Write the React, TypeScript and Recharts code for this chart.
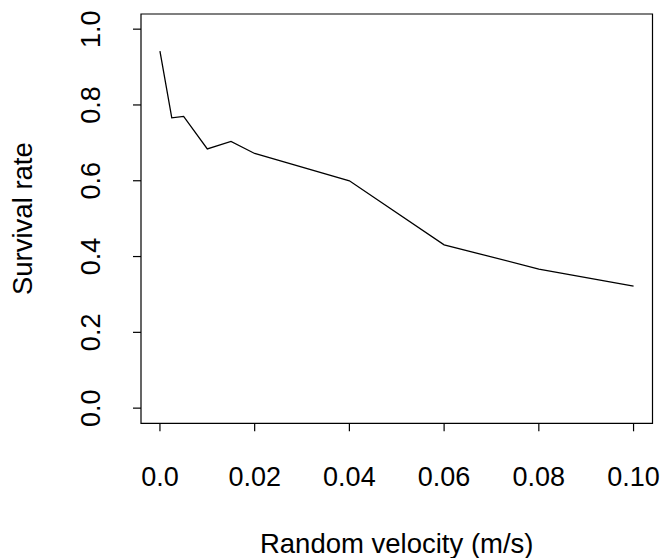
import { LineChart, Line, XAxis, YAxis, ReferenceArea, Label } from "recharts";

const velocity = [0, 0.0025, 0.005, 0.01, 0.015, 0.02, 0.04, 0.06, 0.08, 0.1];
const survival = [0.942, 0.766, 0.77, 0.684, 0.704, 0.672, 0.6, 0.431, 0.367, 0.322];

const xTicks = [0, 0.02, 0.04, 0.06, 0.08, 0.1];
const xTickLabels = ["0.0", "0.02", "0.04", "0.06", "0.08", "0.10"];
const yTicks = [0, 0.2, 0.4, 0.6, 0.8, 1.0];
const yTickLabels = ["0.0", "0.2", "0.4", "0.6", "0.8", "1.0"];

const data = velocity.map((v, i) => ({ v, s: survival[i] }));

const FONT = "'Liberation Sans', Arial, Helvetica, sans-serif";

const XTick = (props: any) => {
    const { x, y, index } = props;
    return (
        <text x={x} y={y} dy={54.4} textAnchor="middle" fontFamily={FONT} fontSize={27} fill="#000">
            {xTickLabels[index]}
        </text>
    );
};

const YTick = (props: any) => {
    const { x, y, index } = props;
    const cx = x - 32.7;
    return (
        <text
            x={cx}
            y={y}
            transform={`rotate(-90, ${cx}, ${y})`}
            textAnchor="middle"
            fontFamily={FONT}
            fontSize={27}
            fill="#000"
        >
            {yTickLabels[index]}
        </text>
    );
};

const XTitle = (props: any) => {
    const vb = props.viewBox;
    return (
        <text x={vb.x + vb.width / 2} y={vb.y + 130} textAnchor="middle" fontFamily={FONT} fontSize={27.5} fill="#000">
            Random velocity (m/s)
        </text>
    );
};

const YTitle = (props: any) => {
    const vb = props.viewBox;
    const cx = 24.5;
    const cy = vb.y + vb.height / 2;
    return (
        <text
            x={cx}
            y={cy}
            transform={`rotate(-90, ${cx}, ${cy})`}
            textAnchor="middle"
            fontFamily={FONT}
            fontSize={27.5}
            fill="#000"
        >
            Survival rate
        </text>
    );
};

export default function App() {
    // "0.10" and the x title run past the body box, so let it overflow
    return (
        <div style={{ width: 645, height: 542, overflow: "visible" }}>
            <style>{`html { overflow: hidden; } body, #root { overflow: visible !important; }`}</style>
            <LineChart
                width={653}
                height={550}
                data={data}
                margin={{ top: 6, right: 8.5, bottom: 0, left: 0 }}
                style={{ overflow: "visible" }}
            >
                <XAxis
                    type="number"
                    dataKey="v"
                    domain={[-0.004, 0.104]}
                    ticks={xTicks}
                    allowDataOverflow
                    axisLine={false}
                    tickLine={{ stroke: "#000", strokeWidth: 1.2 }}
                    tickSize={8}
                    tickMargin={0}
                    tick={<XTick />}
                    height={134.7}
                    interval={0}
                >
                    <Label content={<XTitle />} />
                </XAxis>
                <YAxis
                    type="number"
                    domain={[-0.04, 1.04]}
                    ticks={yTicks}
                    allowDataOverflow
                    axisLine={false}
                    tickLine={{ stroke: "#000", strokeWidth: 1.2 }}
                    tickSize={8}
                    tickMargin={0}
                    tick={<YTick />}
                    width={133}
                    interval={0}
                >
                    <Label content={<YTitle />} />
                </YAxis>
                <ReferenceArea x1={-0.004} x2={0.104} y1={-0.04} y2={1.04} fill="none" stroke="#000" strokeWidth={1.2} fillOpacity={0} />
                <Line type="linear" dataKey="s" stroke="#000" strokeWidth={1.3} dot={false} isAnimationActive={false} />
            </LineChart>
        </div>
    );
}
